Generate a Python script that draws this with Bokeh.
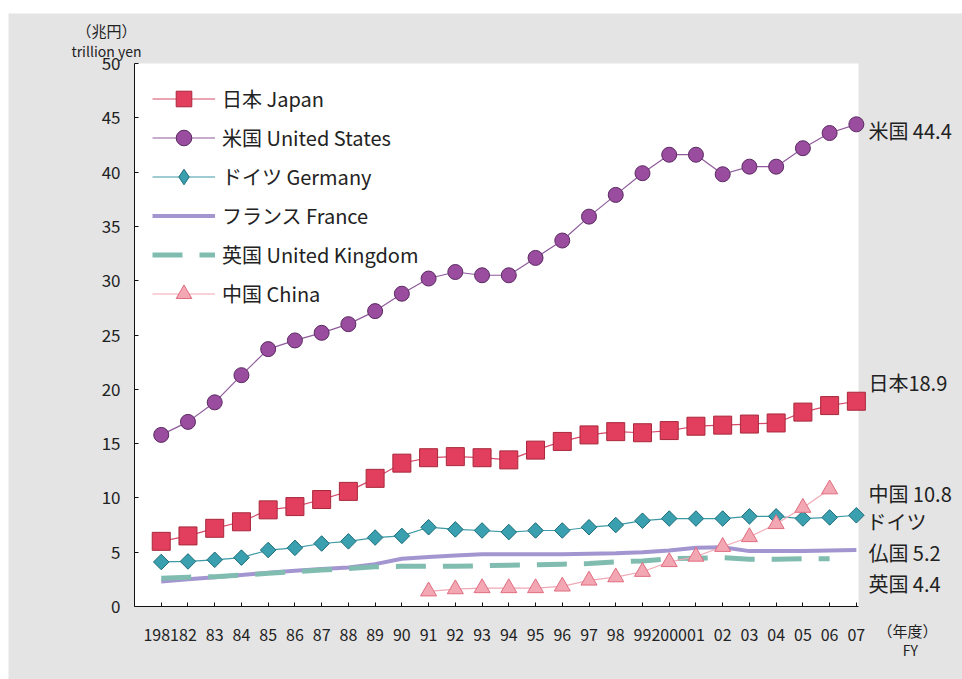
from bokeh.plotting import figure
from bokeh.models import (Range1d, FixedTicker, Label, Legend, LegendItem, Spacer,
                          BoxAnnotation)
from bokeh.layouts import column, row
from bokeh.embed import file_html
from bokeh.resources import INLINE

years = list(range(1981, 2008))
x_labels = ["1981", "82", "83", "84", "85", "86", "87", "88", "89", "90", "91", "92", "93",
            "94", "95", "96", "97", "98", "99", "2000", "01", "02", "03", "04", "05", "06", "07"]
y_ticks = [0, 5, 10, 15, 20, 25, 30, 35, 40, 45, 50]

japan = [6.0, 6.5, 7.2, 7.8, 8.9, 9.2, 9.85, 10.6, 11.8, 13.2, 13.7, 13.8, 13.7, 13.5,
         14.4, 15.2, 15.8, 16.1, 16.0, 16.2, 16.6, 16.7, 16.8, 16.9, 17.9, 18.5, 18.9]
usa = [15.8, 17.0, 18.8, 21.3, 23.7, 24.5, 25.2, 26.0, 27.2, 28.8, 30.2, 30.8, 30.5, 30.5,
       32.1, 33.7, 35.9, 37.9, 39.9, 41.6, 41.6, 39.8, 40.5, 40.5, 42.2, 43.6, 44.4]
germany = [4.1, 4.15, 4.3, 4.5, 5.2, 5.4, 5.8, 6.0, 6.35, 6.5, 7.3, 7.1, 7.0, 6.85,
           7.0, 7.0, 7.3, 7.5, 7.9, 8.1, 8.1, 8.1, 8.3, 8.3, 8.1, 8.2, 8.4]
france = [2.3, 2.5, 2.7, 2.9, 3.1, 3.3, 3.45, 3.6, 3.9, 4.4, 4.55, 4.7, 4.8, 4.8,
          4.8, 4.8, 4.85, 4.9, 5.0, 5.15, 5.4, 5.45, 5.1, 5.1, 5.1, 5.15, 5.2]
uk_years = list(range(1981, 2007))
uk = [2.6, 2.7, 2.75, 2.9, 3.05, 3.2, 3.35, 3.5, 3.65, 3.7, 3.7, 3.7, 3.75, 3.8,
      3.85, 3.9, 3.95, 4.1, 4.2, 4.4, 4.45, 4.5, 4.35, 4.35, 4.4, 4.4]
china_years = list(range(1991, 2007))
china = [1.4, 1.6, 1.7, 1.7, 1.7, 1.85, 2.4, 2.7, 3.2, 4.1, 4.6, 5.5, 6.4, 7.6, 9.1, 10.8]

legend_labels = ["日本 Japan", "米国 United States", "ドイツ Germany", "フランス France",
                 "英国 United Kingdom", "中国 China"]
end_labels = ["米国 44.4", "日本18.9", "中国 10.8", "ドイツ", "仏国 5.2", "英国 4.4"]

FONT = "Noto Sans CJK JP"
TXT = "#222222"
BG = "#e4e4e4"

# plot-area extent in data units and the pixel geometry around it
x_lo, x_hi = years[0] - 1, years[-1] + 0.08
y_lo, y_hi = y_ticks[0], y_ticks[-1]
W, H = 954, 666
AREA_L, AREA_R, AREA_T, AREA_B = 126, 104, 50, 73     # gaps round the plot area, px
sx = (W - AREA_L - AREA_R) / (x_hi - x_lo)
sy = (H - AREA_T - AREA_B) / (y_hi - y_lo)

p = figure(width=W, height=H, output_backend="svg", toolbar_location=None,
           x_range=Range1d(x_lo - AREA_L / sx, x_hi + AREA_R / sx),
           y_range=Range1d(y_lo - AREA_B / sy, y_hi + AREA_T / sy),
           min_border=0, min_border_left=0, min_border_right=0,
           min_border_top=0, min_border_bottom=0,
           background_fill_color=BG, border_fill_color=BG, outline_line_color=None)
p.xgrid.visible = False
p.ygrid.visible = False

p.add_layout(BoxAnnotation(left=x_lo, right=x_hi, bottom=y_lo, top=y_hi,
                           fill_color="white", fill_alpha=1, line_alpha=0,
                           level="underlay"))

xa, ya = p.xaxis[0], p.yaxis[0]
xa.fixed_location = y_lo
xa.bounds = (x_lo, x_hi)
ya.fixed_location = x_lo
ya.bounds = (y_lo, y_hi)
xa.ticker = FixedTicker(ticks=years)
xa.major_label_overrides = {y: l for y, l in zip(years, x_labels)}
ya.ticker = FixedTicker(ticks=y_ticks)
for ax in (xa, ya):
    ax.axis_line_color = "#111111"
    ax.major_tick_line_color = "#111111"
    ax.major_tick_in = 4
    ax.major_tick_out = 0
    ax.minor_tick_line_color = None
    ax.major_label_text_font = FONT
    ax.major_label_text_color = TXT
xa.major_label_text_font_size = "16px"
xa.major_label_standoff = 22
ya.major_label_text_font_size = "17px"
ya.major_label_standoff = 14

# Japan
l1 = p.line(years, japan, line_color="#d64a6a", line_width=1.2)
s1 = p.scatter(years, japan, marker="square", size=18, fill_color="#e13f5d",
               line_color="#a8283c", line_width=1)
# USA
l2 = p.line(years, usa, line_color="#8f5a9b", line_width=1.2)
s2 = p.scatter(years, usa, marker="circle", size=15, fill_color="#9a4c9e",
               line_color="#5b2b63", line_width=1)
# Germany (diamond used for the legend key, hidden under the rotated squares)
l3 = p.line(years, germany, line_color="#3e9aa5", line_width=1.2)
k3 = p.scatter(years, germany, marker="diamond", size=14, fill_color="#3a9fae",
               line_color="#1e6e7c", line_width=1)
s3 = p.scatter(years, germany, marker="square", angle=0.785398, size=11,
               fill_color="#3a9fae", line_color="#1e6e7c", line_width=1)
# France
l4 = p.line(years, france, line_color="#a395cf", line_width=4)
# UK
l5 = p.line(uk_years, uk, line_color="#80bdb0", line_width=5, line_dash="30 17")
# China
l6 = p.line(china_years, china, line_color="#f0a8b4", line_width=1.2)
s6 = p.scatter(china_years, china, marker="triangle", size=16, fill_color="#f2a7b2",
               line_color="#e06c80", line_width=1)

legend = Legend(items=[
    LegendItem(label=legend_labels[0], renderers=[l1, s1]),
    LegendItem(label=legend_labels[1], renderers=[l2, s2]),
    LegendItem(label=legend_labels[2], renderers=[l3, k3]),
    LegendItem(label=legend_labels[3], renderers=[l4]),
    LegendItem(label=legend_labels[4], renderers=[l5]),
    LegendItem(label=legend_labels[5], renderers=[l6, s6]),
], location=(144, 366), margin=0, padding=0, spacing=0, glyph_width=63,
    glyph_height=39, label_height=39, label_standoff=7,
    label_text_font=FONT, label_text_font_size="20px", label_text_color=TXT,
    background_fill_alpha=0, border_line_alpha=0)
p.add_layout(legend)

# end-of-line labels (data units)
end_x = [2007.45, 2007.45, 2007.45, 2007.38, 2007.45, 2007.45]
end_y = [43.83, 20.6, 10.41, 7.83, 4.95, 2.12]
for txt, xs, ys in zip(end_labels, end_x, end_y):
    p.add_layout(Label(x=xs, y=ys, text=txt, text_font=FONT, text_font_size="20px",
                       text_color=TXT, text_baseline="middle", text_align="left"))

# captions
cap_texts = ["（兆円）", "trillion yen", "（年度）", "FY"]
cap_x = [1978.95, 1978.95, 2008.91, 2009.02]
cap_y = [53.04, 51.15, -2.21, -4.05]
cap_size = ["15px", "14px", "15px", "14px"]
for txt, xs, ys, fs in zip(cap_texts, cap_x, cap_y, cap_size):
    p.add_layout(Label(x=xs, y=ys, text=txt, text_font=FONT, text_font_size=fs,
                       text_color=TXT, text_baseline="middle", text_align="center"))

layout = column(Spacer(height=13, width=962), row(Spacer(width=8, height=H), p))
open("out.html", "w").write(file_html(layout, INLINE))
